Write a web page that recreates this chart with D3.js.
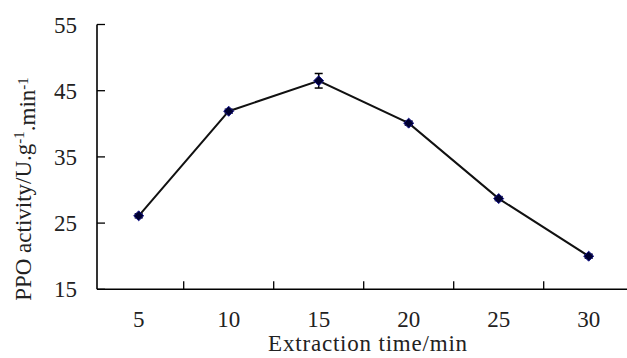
<!DOCTYPE html>
<html>
<head>
<meta charset="utf-8">
<script src="https://cdn.jsdelivr.net/npm/d3@7"></script>
<style>
  body { margin: 0; background: #fff; }
  text { font-family: "Liberation Serif", "Times New Roman", serif; fill: #222; }
</style>
</head>
<body>
<svg id="chart" width="627" height="358"></svg>
<script>
// data
const times = ["5", "10", "15", "20", "25", "30"];
const activity = [26.1, 41.9, 46.5, 40.1, 28.7, 20.0];
const errors = [0.3, 0.3, 1.1, 0.3, 0.3, 0.3];
const yTicks = [15, 25, 35, 45, 55];

const svg = d3.select("#chart");
const width = +svg.attr("width");
const height = +svg.attr("height");

// plot area
const plotLeft = 97, plotTop = 24.5, plotBottom = 289.3;

const x = d3.scaleBand()
    .domain(times)
    .range([93.7, 633.7]);

const y = d3.scaleLinear()
    .domain([15, 55])
    .range([plotBottom, plotTop]);

const g = svg.append("g");

// Y axis with inward ticks
g.append("line")
    .attr("x1", plotLeft).attr("x2", plotLeft)
    .attr("y1", plotTop).attr("y2", plotBottom)
    .attr("stroke", "#000").attr("stroke-width", 1.6);

g.selectAll(".ytick")
    .data(yTicks)
    .enter().append("line")
    .attr("x1", plotLeft).attr("x2", plotLeft + 8)
    .attr("y1", d => y(d)).attr("y2", d => y(d))
    .attr("stroke", "#000").attr("stroke-width", 1.3);

g.selectAll(".ylab")
    .data(yTicks)
    .enter().append("text")
    .attr("x", 77)
    .attr("y", d => y(d))
    .attr("dy", "0.35em")
    .attr("text-anchor", "end")
    .attr("font-size", "23px")
    .text(d => d);

// X axis: ticks between categories, pointing up
g.append("line")
    .attr("x1", plotLeft).attr("x2", width)
    .attr("y1", plotBottom).attr("y2", plotBottom)
    .attr("stroke", "#000").attr("stroke-width", 1.6);

g.selectAll(".xtick")
    .data(times.slice(1))
    .enter().append("line")
    .attr("x1", d => x(d)).attr("x2", d => x(d))
    .attr("y1", plotBottom).attr("y2", plotBottom - 8)
    .attr("stroke", "#000").attr("stroke-width", 1.3);

g.selectAll(".xlab")
    .data(times)
    .enter().append("text")
    .attr("x", d => x(d) + x.bandwidth() / 2)
    .attr("y", 318.5)
    .attr("dy", "0.35em")
    .attr("text-anchor", "middle")
    .attr("font-size", "23px")
    .text(d => d);

// axis titles
g.append("text")
    .attr("x", 368)
    .attr("y", 351)
    .attr("text-anchor", "middle")
    .attr("font-size", "23px")
    .attr("letter-spacing", "0.8px")
    .text("Extraction time/min");

const yt = g.append("text")
    .attr("transform", "translate(31,189) rotate(-90)")
    .attr("text-anchor", "middle")
    .attr("font-size", "23px");
yt.append("tspan").text("PPO activity/U.g");
yt.append("tspan").attr("dy", "-0.45em").attr("font-size", "15px").text("-1");
yt.append("tspan").attr("dy", "0.45em").text(".min");
yt.append("tspan").attr("dy", "-0.45em").attr("font-size", "15px").text("-1");

// line
const cx = (d, i) => x(times[i]) + x.bandwidth() / 2;
const line = d3.line()
    .x((d, i) => cx(d, i))
    .y(d => y(d));

g.append("path")
    .datum(activity)
    .attr("d", line)
    .attr("fill", "none")
    .attr("stroke", "#111")
    .attr("stroke-width", 2);

// error bars
const eb = g.selectAll(".err")
    .data(activity)
    .enter().append("g");
eb.append("line")
    .attr("x1", cx).attr("x2", cx)
    .attr("y1", (d, i) => y(d + errors[i]))
    .attr("y2", (d, i) => y(d - errors[i]))
    .attr("stroke", "#000").attr("stroke-width", 1.5);
eb.append("line")
    .attr("x1", (d, i) => cx(d, i) - 4).attr("x2", (d, i) => cx(d, i) + 4)
    .attr("y1", (d, i) => y(d + errors[i])).attr("y2", (d, i) => y(d + errors[i]))
    .attr("stroke", "#000").attr("stroke-width", 1.5);
eb.append("line")
    .attr("x1", (d, i) => cx(d, i) - 4).attr("x2", (d, i) => cx(d, i) + 4)
    .attr("y1", (d, i) => y(d - errors[i])).attr("y2", (d, i) => y(d - errors[i]))
    .attr("stroke", "#000").attr("stroke-width", 1.5);

// diamond markers
g.selectAll(".pt")
    .data(activity)
    .enter().append("path")
    .attr("d", d3.symbol(d3.symbolDiamond2, 64))
    .attr("transform", (d, i) => `translate(${cx(d, i)},${y(d)})`)
    .attr("fill", "#000030")
    .attr("stroke", "#1a1a90")
    .attr("stroke-width", 1);
</script>
</body>
</html>
